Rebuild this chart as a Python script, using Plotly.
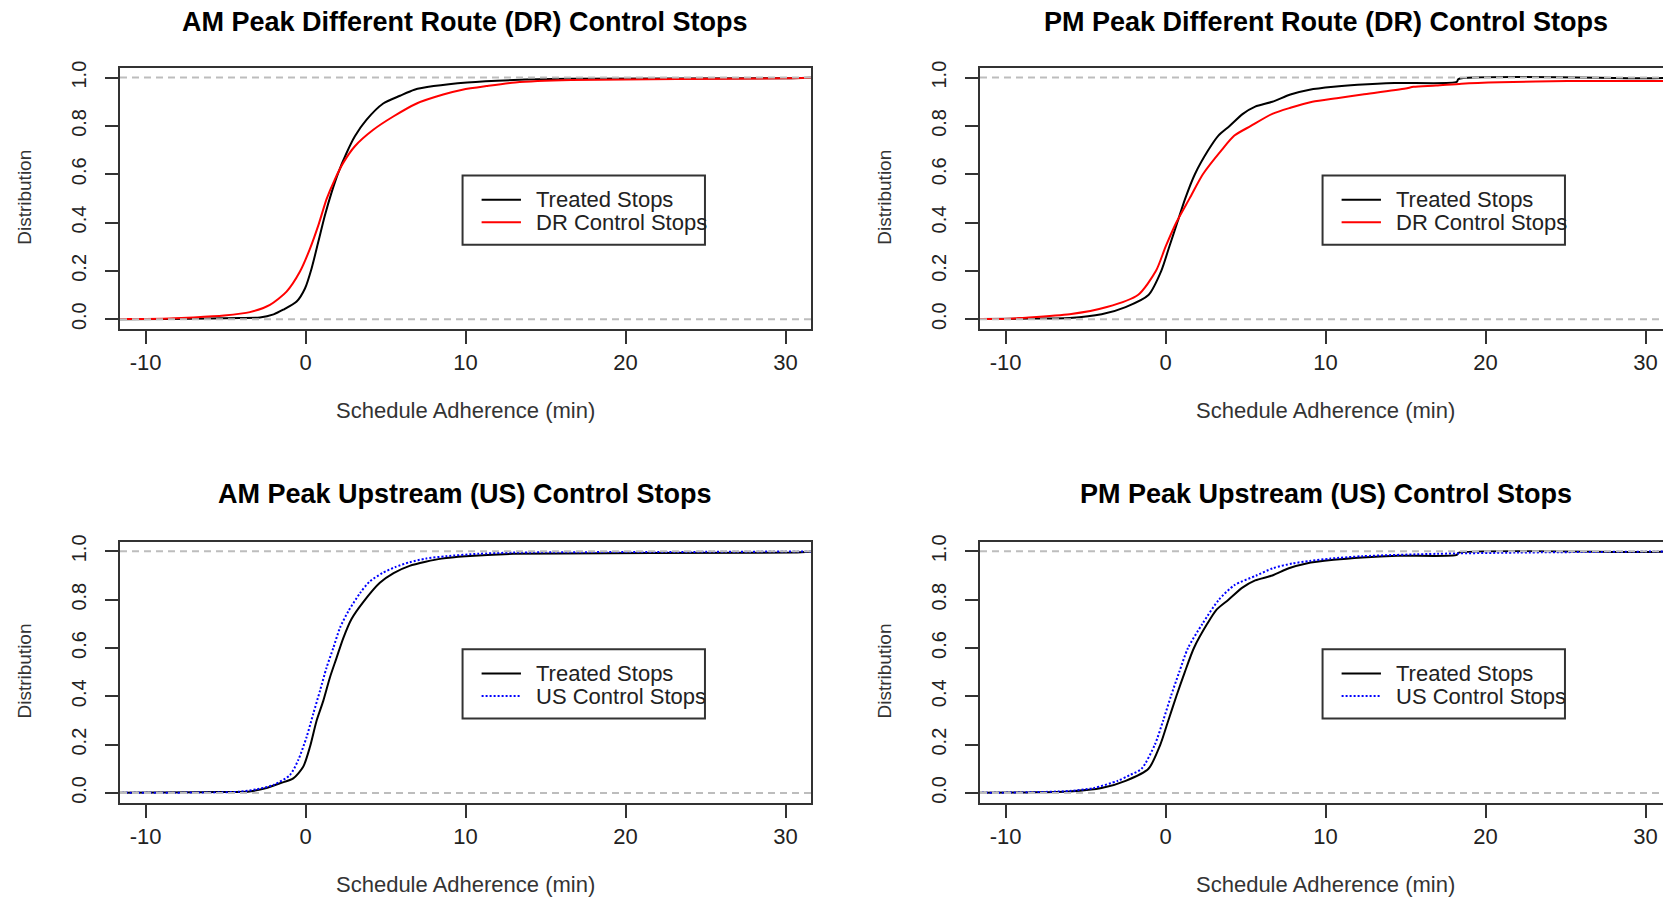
import plotly.graph_objects as go

# ---------------- data ----------------
# Panel 1: AM Peak, Different Route (DR)
am_dr_treated_x = [-12, -8.5, -6, -4.1, -2.86, -2.0, -1.4, -0.56, -0.04, 0.37, 0.79, 1.2, 1.62, 2.04, 2.56, 3.08, 3.8, 4.85,
                   5.9, 6.8, 8.0, 10.1, 13.0, 16.5, 29.5, 32]
am_dr_treated_f = [0, 0.001, 0.003, 0.005, 0.007, 0.02, 0.039, 0.073, 0.127, 0.209, 0.319, 0.428, 0.524, 0.606, 0.688, 0.757,
                   0.825, 0.893, 0.925, 0.95, 0.965, 0.98, 0.99, 0.995, 0.997, 1.0]
am_dr_control_x = [-12, -8.5, -7, -5.1, -3.48, -2.23, -1.19, -0.36, 0.27, 0.79, 1.31, 1.83, 2.35, 3.08, 4.23, 5.48, 6.94,
                   8.6, 9.8, 11.3, 13.1, 16.6, 30.0, 32]
am_dr_control_f = [0, 0.003, 0.007, 0.015, 0.029, 0.059, 0.114, 0.196, 0.291, 0.387, 0.497, 0.579, 0.647, 0.716, 0.784, 0.839,
                   0.893, 0.93, 0.95, 0.965, 0.98, 0.99, 0.997, 1.0]

# Panel 2: PM Peak, Different Route (DR)
pm_dr_treated_x = [-12, -9.3, -6, -4, -2.5, -1.07, -0.27, 0.23, 0.73, 1.23, 1.83, 2.67, 3.3, 4.0, 4.83, 5.6, 6.67, 7.8, 9.0, 10.5,
                   12.0, 14.3, 18.2, 18.3, 30, 32]
pm_dr_treated_f = [0, 0.002, 0.005, 0.02, 0.05, 0.1, 0.2, 0.3, 0.4, 0.5, 0.6, 0.7, 0.76, 0.8, 0.85, 0.88, 0.9, 0.93, 0.95, 0.962,
                   0.97, 0.978, 0.982, 0.994, 0.997, 1.0]
pm_dr_control_x = [-12, -9.7, -9, -6, -3.67, -1.73, -0.6, 0.0, 0.67, 1.5, 2.33, 3.5, 4.3, 5.33, 6.67, 7.8, 9.17, 10.7, 12.3, 15.0,
                   15.5, 16.9, 18.5, 20.9, 25.1, 32]
pm_dr_control_f = [0, 0.002, 0.005, 0.02, 0.05, 0.1, 0.2, 0.3, 0.4, 0.5, 0.6, 0.7, 0.76, 0.8, 0.85, 0.875, 0.9, 0.915, 0.93, 0.955,
                   0.962, 0.967, 0.975, 0.981, 0.986, 0.986]

# Panel 3: AM Peak, Upstream (US)
am_us_treated_x = [-12, -6.5, -4.5, -3.5, -2.44, -1.6, -0.77, -0.15, 0.27, 0.69, 1.1, 1.52, 1.94, 2.35, 2.87, 3.6, 4.64, 5.5,
                   6.5, 7.5, 8.5, 10.0, 13.0, 30.5, 32]
am_us_treated_f = [0, 0.003, 0.004, 0.006, 0.02, 0.04, 0.06, 0.108, 0.19, 0.30, 0.38, 0.478, 0.56, 0.64, 0.72, 0.79, 0.87, 0.91,
                   0.94, 0.957, 0.97, 0.98, 0.99, 0.995, 1.0]
am_us_control_x = [-12, -6, -4.1, -3.06, -2.0, -0.98, -0.46, 0.06, 0.48, 0.9, 1.31, 1.73, 2.15, 2.67, 3.4, 4.0, 4.8, 5.6,
                   6.5, 7.5, 8.8, 10.8, 13, 25, 32]
am_us_control_f = [0, 0.002, 0.005, 0.015, 0.033, 0.074, 0.136, 0.231, 0.328, 0.423, 0.519, 0.60, 0.684, 0.752, 0.827, 0.875,
                   0.91, 0.935, 0.955, 0.97, 0.98, 0.99, 0.995, 0.998, 1.0]

# Panel 4: PM Peak, Upstream (US)
pm_us_treated_x = [-12, -8.5, -6, -4, -2.5, -1.07, -0.33, 0.17, 0.67, 1.2, 1.77, 2.6, 3.2, 3.93, 4.8, 5.6, 6.67, 7.7, 8.8, 10.5,
                   12.3, 14.5, 18.2, 18.3, 30, 32]
pm_us_treated_f = [0, 0.002, 0.006, 0.02, 0.05, 0.1, 0.2, 0.3, 0.4, 0.5, 0.6, 0.7, 0.76, 0.8, 0.85, 0.88, 0.9, 0.93, 0.95, 0.965,
                   0.975, 0.982, 0.985, 0.994, 0.997, 1.0]
pm_us_control_x = [-12, -9, -6, -4.5, -3, -2.2, -1.5, -0.67, -0.15, 0.33, 0.85, 1.4, 2.3, 3.33, 4.3, 5.67, 6.7, 7.93, 9.0, 10.3,
                   12.3, 17, 22, 32]
pm_us_control_f = [0, 0.002, 0.008, 0.02, 0.05, 0.075, 0.1, 0.2, 0.3, 0.4, 0.5, 0.6, 0.7, 0.8, 0.86, 0.9, 0.93, 0.95, 0.96, 0.97,
                   0.98, 0.99, 0.995, 1.0]

titles = ["AM Peak Different Route (DR) Control Stops", "PM Peak Different Route (DR) Control Stops",
          "AM Peak Upstream (US) Control Stops", "PM Peak Upstream (US) Control Stops"]
legend_labels = [["Treated Stops", "DR Control Stops"], ["Treated Stops", "DR Control Stops"],
                 ["Treated Stops", "US Control Stops"], ["Treated Stops", "US Control Stops"]]
x_title = "Schedule Adherence (min)"
y_title = "Distribution"
x_ticks = [-10, 0, 10, 20, 30]
y_ticks = [0.0, 0.2, 0.4, 0.6, 0.8, 1.0]

series = [
    (am_dr_treated_x, am_dr_treated_f, am_dr_control_x, am_dr_control_f),
    (pm_dr_treated_x, pm_dr_treated_f, pm_dr_control_x, pm_dr_control_f),
    (am_us_treated_x, am_us_treated_f, am_us_control_x, am_us_control_f),
    (pm_us_treated_x, pm_us_treated_f, pm_us_control_x, pm_us_control_f),
]
control_styles = [
    dict(color="#FF0000", width=2),
    dict(color="#FF0000", width=2),
    dict(color="#0000FF", width=2, dash="2px,2px"),
    dict(color="#0000FF", width=2, dash="2px,2px"),
]

# ---------------- layout geometry ----------------
W, H = 1663, 900
FONT = "Liberation Sans, Arial, Helvetica, sans-serif"
AXC = "#333333"
PXU = 16.0            # pixels per minute
X0 = -11.6            # left limit of x range
col_dx = [0, 860, 0, 860]
box_tops = [61.5, 61.5, 539.5, 539.5]
title_y = [15, 15, 491.5, 491.5]
xtitle_y = [407, 407, 885.5, 885.5]
BOX_H = 263.2


def px(x):
    return x / W


def py(y):
    return 1 - y / H


fig = go.Figure()
annotations = []
shapes = []

for i, (tx, tf, cx, cf) in enumerate(series):
    n = i + 1
    dx = col_dx[i]
    xa = "x" if n == 1 else f"x{n}"
    ya = "y" if n == 1 else f"y{n}"
    left = 120 + dx
    right = min(811 + dx, W)
    top = box_tops[i]
    bottom = top + BOX_H
    x1 = X0 + (right - left) / PXU

    fig.add_trace(go.Scatter(x=tx, y=tf, mode="lines", xaxis=xa, yaxis=ya,
                             line=dict(color="#000000", width=2, shape="spline", smoothing=0.7),
                             showlegend=False, name=legend_labels[i][0]))
    cst = dict(control_styles[i])
    cst.update(shape="spline", smoothing=0.7)
    fig.add_trace(go.Scatter(x=cx, y=cf, mode="lines", xaxis=xa, yaxis=ya,
                             line=cst, showlegend=False, name=legend_labels[i][1]))

    xkey = "xaxis" if n == 1 else f"xaxis{n}"
    ykey = "yaxis" if n == 1 else f"yaxis{n}"
    fig.update_layout({
        xkey: dict(domain=[px(left), px(right)], range=[X0, x1], anchor=ya,
                   tickvals=x_ticks, ticktext=[str(v) for v in x_ticks],
                   ticks="outside", ticklen=13, tickwidth=2, tickcolor=AXC,
                   showline=True, linecolor=AXC, linewidth=2, mirror=True,
                   showgrid=False, zeroline=False, ticklabelstandoff=0,
                   tickfont=dict(family=FONT, size=22, color="#222222")),
        ykey: dict(domain=[py(bottom), py(top)], range=[-0.04, 1.04], anchor=xa,
                   tickvals=y_ticks, ticktext=[f"{v:.1f}" for v in y_ticks],
                   ticks="outside", ticklen=13, tickwidth=2, tickcolor=AXC,
                   showline=True, linecolor=AXC, linewidth=2, mirror=(right < W),
                   showgrid=False, zeroline=False, tickangle=-90, ticklabelstandoff=11,
                   tickfont=dict(family=FONT, size=20, color="#222222")),
    })

    # reference lines at 0 and 1
    for yv in (0, 1):
        shapes.append(dict(type="line", xref=f"{xa} domain", yref=ya, x0=0, x1=1, y0=yv, y1=yv,
                           line=dict(color="#BDBDBD", width=2, dash="7px,5px"), layer="above"))

    # legend box (in data coordinates, as in R's legend(x, y))
    shapes.append(dict(type="rect", xref=xa, yref=ya, x0=9.81, x1=24.96, y0=0.308, y1=0.595,
                       line=dict(color=AXC, width=2), layer="above"))
    shapes.append(dict(type="line", xref=xa, yref=ya, x0=11.0, x1=13.46, y0=0.494, y1=0.494,
                       line=dict(color="#000000", width=2)))
    cs = control_styles[i]
    shapes.append(dict(type="line", xref=xa, yref=ya, x0=11.0, x1=13.46, y0=0.401, y1=0.401,
                       line=dict(color=cs["color"], width=2, dash=cs.get("dash", "solid"))))
    for lab, yv in zip(legend_labels[i], (0.494, 0.401)):
        annotations.append(dict(text=lab, xref=xa, yref=ya, x=14.25, y=yv, xanchor="left",
                                yanchor="middle", showarrow=False,
                                font=dict(family=FONT, size=22, color="#222222")))

    # titles
    annotations.append(dict(text=f"<b>{titles[i]}</b>", xref="paper", yref="paper",
                            x=px(465.5 + dx), y=py(title_y[i]), xanchor="center", yanchor="middle",
                            showarrow=False, font=dict(family=FONT, size=27, color="#000000")))
    annotations.append(dict(text=x_title, xref="paper", yref="paper",
                            x=px(465.5 + dx), y=py(xtitle_y[i]), xanchor="center", yanchor="middle",
                            showarrow=False, font=dict(family=FONT, size=22, color="#333333")))
    annotations.append(dict(text=y_title, xref="paper", yref="paper", textangle=-90,
                            x=px(25 + dx), y=py(top + 131), xanchor="center", yanchor="middle",
                            showarrow=False, font=dict(family=FONT, size=19, color="#333333")))

fig.update_layout(width=W, height=H, margin=dict(l=0, r=0, t=0, b=0),
                  paper_bgcolor="white", plot_bgcolor="white", showlegend=False,
                  shapes=shapes, annotations=annotations)

fig.write_html("out.html")
